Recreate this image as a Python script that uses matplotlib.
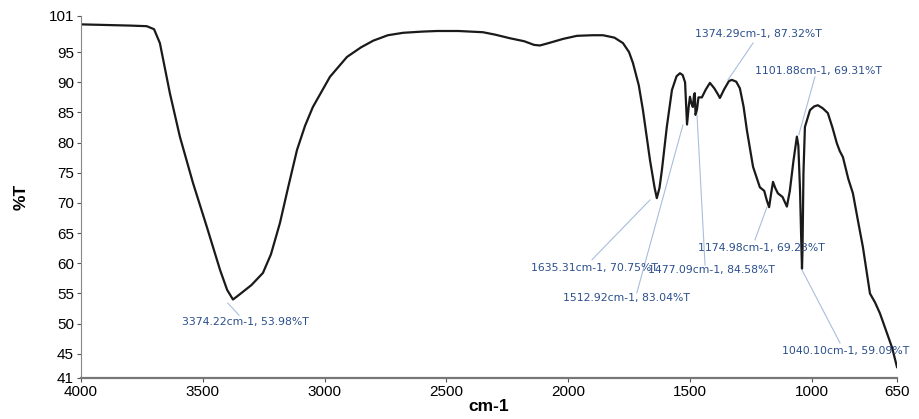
import matplotlib
matplotlib.use("Agg")
import matplotlib.pyplot as plt

# wavenumber (cm-1) and transmittance (%T)
wavenumber = [4000, 3900, 3800, 3730, 3700, 3676, 3635, 3594, 3540, 3483,
              3429, 3400, 3376, 3350, 3300, 3253, 3220, 3183, 3150, 3113,
              3080, 3048, 2978, 2908, 2850, 2800, 2740, 2678, 2600, 2539,
              2450, 2350, 2300, 2239, 2180, 2140, 2116, 2080, 2020, 1964,
              1900, 1857, 1810, 1775, 1750, 1734, 1710, 1693, 1664, 1645,
              1636, 1625, 1615, 1595, 1574, 1555, 1541, 1530, 1520, 1512,
              1505, 1500, 1494, 1488, 1483, 1480, 1477, 1471, 1465, 1451,
              1435, 1418, 1400, 1385, 1377, 1360, 1340, 1328, 1310, 1295,
              1280, 1266, 1241, 1213, 1195, 1185, 1175, 1167, 1159, 1150,
              1139, 1120, 1102, 1090, 1075, 1061, 1055, 1048, 1042, 1040,
              1038, 1034, 1028, 1007, 990, 975, 955, 934, 915, 897,
              885, 872, 850, 831, 810, 790, 761, 740, 720, 691, 670, 650]
transmittance = [99.6, 99.5, 99.4, 99.3, 98.8, 96.5, 88.2, 81.0, 73.3, 66.0,
                 58.9, 55.6, 54.0, 54.8, 56.4, 58.4, 61.5, 66.7, 72.5, 78.8,
                 82.8, 85.9, 90.9, 94.2, 95.8, 96.9, 97.8, 98.2, 98.4, 98.5,
                 98.5, 98.3, 97.9, 97.3, 96.8, 96.2, 96.1, 96.5, 97.2, 97.7,
                 97.8, 97.8, 97.4, 96.5, 95.0, 93.2, 89.5, 85.4, 77.1, 72.5,
                 70.8, 72.5, 75.5, 82.6, 88.7, 91.0, 91.5, 91.2, 90.0, 83.0,
                 86.0, 87.6, 86.5, 85.9, 88.0, 88.2, 84.6, 85.5, 87.5, 87.5,
                 88.8, 89.9, 89.0, 88.0, 87.4, 88.8, 90.2, 90.4, 90.1, 89.0,
                 86.0, 82.0, 76.0, 72.6, 72.0, 70.5, 69.3, 71.5, 73.5, 72.5,
                 71.6, 71.0, 69.4, 72.0, 77.0, 81.0, 79.5, 72.0, 62.0, 59.1,
                 62.0, 75.0, 82.6, 85.4, 86.0, 86.2, 85.7, 84.9, 82.5, 79.9,
                 78.6, 77.6, 74.0, 71.6, 67.0, 62.7, 55.0, 53.5, 51.7, 48.4,
                 46.0, 42.8]

# peak labels: text, point the leader starts at, where the text sits
peak_labels = ["3374.22cm-1, 53.98%T", "1635.31cm-1, 70.75%T",
               "1512.92cm-1, 83.04%T", "1477.09cm-1, 84.58%T",
               "1374.29cm-1, 87.32%T", "1101.88cm-1, 69.31%T",
               "1174.98cm-1, 69.23%T", "1040.10cm-1, 59.09%T"]
leader_start = [(3397, 53.4), (1664, 70.5), (1529, 82.9), (1471, 84.6),
                (1344, 90.4), (1053, 81.3), (1184, 69.3), (1040, 58.9)]
leader_end = [(3351, 51.4), (1902, 60.6), (1718, 55.1), (1438, 59.7),
              (1241, 96.5), (987, 90.9), (1233, 63.9), (884, 46.8)]
text_pos = [(3585, 50.3), (2153, 59.2), (2021, 54.3), (1672, 58.9),
            (1480, 98.0), (1233, 91.9), (1467, 62.5), (1122, 45.5)]

xticks = [4000, 3500, 3000, 2500, 2000, 1500, 1000, 650]
yticks = [41, 45, 50, 55, 60, 65, 70, 75, 80, 85, 90, 95, 101]

plt.rcParams['font.family'] = ['Liberation Sans', 'DejaVu Sans']

fig = plt.figure(figsize=(9.2, 4.19), dpi=100)
ax = fig.add_axes([0.088, 0.098, 0.887, 0.864])

ax.plot(wavenumber, transmittance, color="#1a1a1a", lw=1.6,
        solid_joinstyle="round")

for label, p0, p1, tp in zip(peak_labels, leader_start, leader_end, text_pos):
    ax.plot([p0[0], p1[0]], [p0[1], p1[1]], color="#a9bedb", lw=0.8)
    ax.text(tp[0], tp[1], label, color="#2b4f8c", fontsize=7.8,
            family="DejaVu Sans", ha="left", va="center")

ax.set_xlim(4000, 650)
ax.set_ylim(41, 101)
ax.set_xticks(xticks)
ax.set_yticks(yticks)
ax.tick_params(labelsize=11, length=3, width=0.8, color="#555555", pad=2)

for side in ["top", "right"]:
    ax.spines[side].set_visible(False)
ax.spines["left"].set_color("#888888")
ax.spines["bottom"].set_color("#777777")
ax.spines["bottom"].set_linewidth(1.6)

ax.set_xlabel("cm-1", fontsize=12.5, fontweight="bold", labelpad=0)
ax.set_ylabel("%T", fontsize=12.5, fontweight="bold", labelpad=14)

fig.savefig("out.png", dpi=100)
